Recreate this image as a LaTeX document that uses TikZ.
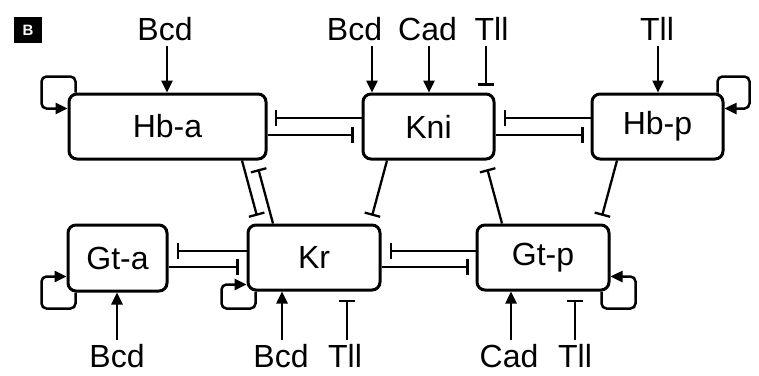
\documentclass[tikz,border=0pt]{standalone}
\usepackage{fontspec}
\setmainfont{Liberation Sans}
\usetikzlibrary{arrows.meta,calc}
\begin{document}
\begin{tikzpicture}[x=1pt,y=-1pt,
  gene/.style={draw,line width=3pt,rounded corners=8pt,inner sep=0pt,
    font=\fontsize{32}{38}\selectfont},
  lab/.style={inner sep=0pt,anchor=base,font=\fontsize{32}{38}\selectfont},
  act/.style={line width=2.5pt,-{Triangle[length=12pt,width=11pt]}},
  inh/.style={line width=2.3pt,-{Bar[width=16pt]}},
  selfloop/.style={act,rounded corners=5pt}]
\useasboundingbox (0,0) rectangle (759,375);

% panel badge
\node[fill=black,minimum width=28pt,minimum height=26pt,inner sep=0pt,
  text=white,font=\fontsize{15}{15}\selectfont\bfseries] (badge) at (28,30) {B};

% gene boxes
\node[gene,minimum width=197pt,minimum height=65pt] (hba) at (167.5,126.5) {Hb-a};
\node[gene,minimum width=131pt,minimum height=65pt] (kni) at (428.5,126.5) {Kni};
\node[gene,minimum width=131pt,minimum height=65pt] (hbp) at (657.5,126.5) {Hb-p};
\node[gene,minimum width=99pt,minimum height=66pt] (gta) at (117.5,258) {Gt-a};
\node[gene,minimum width=132pt,minimum height=65pt] (kr) at (314,257.5) {Kr};
\node[gene,minimum width=132pt,minimum height=65pt] (gtp) at (543,257.5) {Gt-p};

% maternal / terminal inputs, top row
\node[lab] (lbcd1) at (165,40) {Bcd};
\node[lab] (lbcd2) at (354.5,40) {Bcd};
\node[lab] (lcad1) at (427.5,40) {Cad};
\node[lab] (ltll1) at (491.5,40) {Tll};
\node[lab] (ltll2) at (657,40) {Tll};
\coordinate (in1) at (167,46);
\coordinate (in2) at (372,46);
\coordinate (in3) at (429,46);
\coordinate (in4) at (486,46);
\coordinate (in5) at (658,46);
\draw[act] (in1) -- (in1 |- hba.north);
\draw[act] (in2) -- (in2 |- kni.north);
\draw[act] (in3) -- (in3 |- kni.north);
\draw[inh,shorten >=7pt] (in4) -- (in4 |- kni.north);
\draw[act] (in5) -- (in5 |- hbp.north);

% inputs, bottom row
\node[lab] (lbcd3) at (117,367) {Bcd};
\node[lab] (lbcd4) at (281,367) {Bcd};
\node[lab] (ltll3) at (345,367) {Tll};
\node[lab] (lcad2) at (509,367) {Cad};
\node[lab] (ltll4) at (575,367) {Tll};
\coordinate (in6) at (117,340);
\coordinate (in7) at (282,340);
\coordinate (in8) at (347,340);
\coordinate (in9) at (511,340);
\coordinate (in10) at (575,340);
\draw[act] (in6) -- (in6 |- gta.south);
\draw[act] (in7) -- (in7 |- kr.south);
\draw[inh,shorten >=8pt] (in8) -- (in8 |- kr.south);
\draw[act] (in9) -- (in9 |- gtp.south);
\draw[inh,shorten >=8pt] (in10) -- (in10 |- gtp.south);

% self activation loops
\draw[selfloop] ($(hba.north west)+(8,0)$) -- ++(0,-16) -- ++(-34,0) -- ++(0,32)
  -- ($(hba.north west)+(0,16)$);
\draw[selfloop] ($(hbp.north east)+(-7,0)$) -- ++(0,-16) -- ++(32,0) -- ++(0,32)
  -- ($(hbp.north east)+(0,16)$);
\draw[selfloop] ($(gta.south west)+(9,0)$) -- ++(0,16) -- ++(-34,0) -- ++(0,-32)
  -- ($(gta.south west)+(0,-16)$);
\draw[selfloop] ($(kr.south west)+(9,0)$) -- ++(0,17) -- ++(-34,0) -- ++(0,-24)
  -- ($(kr.south west)+(0,-7)$);
\draw[selfloop] ($(gtp.south east)+(-9,0)$) -- ++(0,17) -- ++(34,0) -- ++(0,-32)
  -- ($(gtp.south east)+(0,-15)$);

% mutual repression, top row
\draw[inh,shorten >=7pt] (kni.west |- 0,118) -- (hba.east |- 0,118);
\draw[inh,shorten >=8pt] (hba.east |- 0,135) -- (kni.west |- 0,135);
\draw[inh,shorten >=8pt] (hbp.west |- 0,118) -- (kni.east |- 0,118);
\draw[inh,shorten >=7pt] (kni.east |- 0,135) -- (hbp.west |- 0,135);

% mutual repression, bottom row
\draw[inh,shorten >=8pt] (kr.west |- 0,251) -- (gta.east |- 0,251);
\draw[inh,shorten >=8pt] (gta.east |- 0,267) -- (kr.west |- 0,267);
\draw[inh,shorten >=8pt] (gtp.west |- 0,251) -- (kr.east |- 0,251);
\draw[inh,shorten >=7pt] (kr.east |- 0,267) -- (gtp.west |- 0,267);

% repression between rows
\draw[inh,shorten >=8pt] (hba.south -| 242,0) -- (kr.north -| 259,0);
\draw[inh,shorten >=9pt] (kr.north -| 273,0) -- (hba.south -| 256,0);
\draw[inh,shorten >=8pt] (kni.south -| 387,0) -- (kr.north -| 370,0);
\draw[inh,shorten >=9pt] (gtp.north -| 502,0) -- (kni.south -| 485,0);
\draw[inh,shorten >=8pt] (hbp.south -| 617,0) -- (gtp.north -| 600,0);
\end{tikzpicture}
\end{document}
